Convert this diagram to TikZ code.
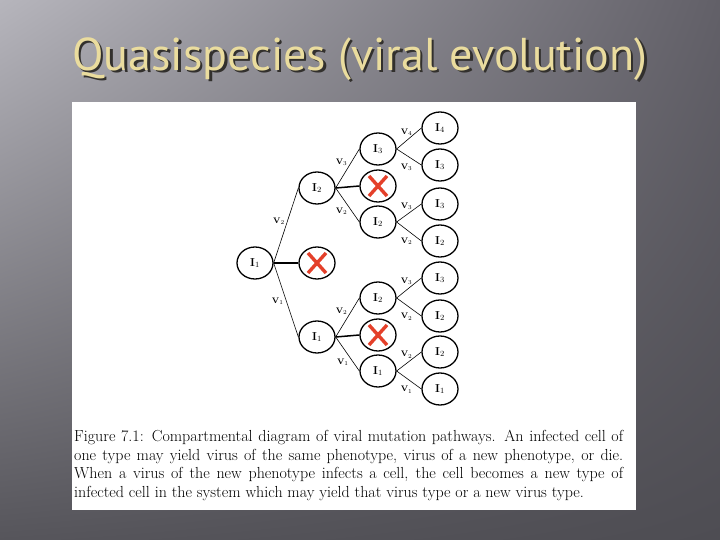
\documentclass[tikz,border=0pt]{standalone}
\usepackage{fontspec}
\usetikzlibrary{shapes.geometric, shadings}
\newfontfamily\titlefont{PT Sans}
\definecolor{titlecol}{RGB}{234,220,158}
\definecolor{shadowcol}{RGB}{50,48,45}
\definecolor{crosscol}{RGB}{228,64,42}
\definecolor{bgul}{RGB}{182,181,188}
\definecolor{bgur}{RGB}{98,96,104}
\definecolor{bgll}{RGB}{86,85,91}
\definecolor{bglr}{RGB}{78,77,83}
\tikzset{
  cell/.style={draw, ellipse, line width=1.3pt, minimum width=36pt, minimum height=32pt,
    inner sep=0pt, font=\fontsize{11.5}{11.5}\selectfont\bfseries},
  deadcell/.style={cell, path picture={
    \draw[crosscol, line width=3.4pt]
      ([shift={(-9pt,-10pt)}]path picture bounding box.center) -- ([shift={(9pt,10pt)}]path picture bounding box.center)
      ([shift={(-9pt,10pt)}]path picture bounding box.center) -- ([shift={(9pt,-10pt)}]path picture bounding box.center);}},
  branch/.style={line width=0.6pt},
  deadbranch/.style={line width=1.5pt},
  rate/.style={font=\fontsize{8}{8}\selectfont\bfseries, inner sep=1pt},
}
\begin{document}
\begin{tikzpicture}[x=1pt, y=-1pt]
    \useasboundingbox (0,0) rectangle (720,540);

    % Arka plan
    \shade[upper left=bgul, upper right=bgur, lower left=bgll, lower right=bglr]
        (0,0) rectangle (720,540);
    \fill[white] (72,102) rectangle (636,510);

    % Başlık (gölgeli)
    \node[font=\titlefont\fontsize{46}{46}\selectfont, inner sep=0pt] (title) at (360,60)
        {\rlap{\raisebox{-2.5pt}{\hspace{2.5pt}\textcolor{shadowcol}{Quasispecies (viral evolution)}}}\textcolor{titlecol}{Quasispecies (viral evolution)}};

    % Hücreler
    \node[cell] (r) at (255,263) {I$_1$};

    \node[cell] (a) at (317,188) {I$_2$};
    \node[deadcell] (ax) at (317,263) {};
    \node[cell] (b) at (317,337) {I$_1$};

    \node[cell] (aa) at (378,149) {I$_3$};
    \node[deadcell] (aax) at (378,186) {};
    \node[cell] (ab) at (378,222) {I$_2$};
    \node[cell] (ba) at (378,298) {I$_2$};
    \node[deadcell] (bax) at (378,335) {};
    \node[cell] (bb) at (378,371) {I$_1$};

    \node[cell] (aaa) at (440,128) {I$_4$};
    \node[cell] (aab) at (440,165) {I$_3$};
    \node[cell] (aba) at (440,204) {I$_3$};
    \node[cell] (abb) at (440,241) {I$_2$};
    \node[cell] (baa) at (440,278) {I$_3$};
    \node[cell] (bab) at (440,316) {I$_2$};
    \node[cell] (bba) at (440,352) {I$_2$};
    \node[cell] (bbb) at (440,389) {I$_1$};

    % Dallar
    \draw[branch] (r.east) -- (a.west) node[rate, midway, above left] {V$_2$};
    \draw[deadbranch] (r.east) -- (ax.west);
    \draw[branch] (r.east) -- (b.west) node[rate, pos=0.45, below left] {V$_1$};

    \draw[branch] (a.east) -- (aa.west) node[rate, pos=0.55, above left] {V$_3$};
    \draw[deadbranch] (a.east) -- (aax.west);
    \draw[branch] (a.east) -- (ab.west) node[rate, pos=0.55, below left] {V$_2$};
    \draw[branch] (b.east) -- (ba.west) node[rate, pos=0.55, above left] {V$_2$};
    \draw[deadbranch] (b.east) -- (bax.west);
    \draw[branch] (b.east) -- (bb.west) node[rate, pos=0.6, below left] {V$_1$};

    \draw[branch] (aa.east) -- (aaa.west) node[rate, pos=0.4, above=4pt] {V$_4$};
    \draw[branch] (aa.east) -- (aab.west) node[rate, pos=0.4, below=7pt] {V$_3$};
    \draw[branch] (ab.east) -- (aba.west) node[rate, pos=0.4, above=4pt] {V$_3$};
    \draw[branch] (ab.east) -- (abb.west) node[rate, pos=0.4, below=7pt] {V$_2$};
    \draw[branch] (ba.east) -- (baa.west) node[rate, pos=0.4, above=4pt] {V$_3$};
    \draw[branch] (ba.east) -- (bab.west) node[rate, pos=0.4, below=7pt] {V$_2$};
    \draw[branch] (bb.east) -- (bba.west) node[rate, pos=0.4, above=4pt] {V$_2$};
    \draw[branch] (bb.east) -- (bbb.west) node[rate, pos=0.4, below=7pt] {V$_1$};

    % Açıklama
    \node[anchor=north west, inner sep=0pt, text width=549pt, align=justify,
          font=\fontsize{16}{18.5}\selectfont] (caption) at (74,430)
        {Figure 7.1: Compartmental diagram of viral mutation pathways. An infected cell of\linebreak
         one type may yield virus of the same phenotype, virus of a new phenotype, or die.\linebreak
         When a virus of the new phenotype infects a cell, the cell becomes a new type of\linebreak
         infected cell in the system which may yield that virus type or a new virus type.};
\end{tikzpicture}
\end{document}
